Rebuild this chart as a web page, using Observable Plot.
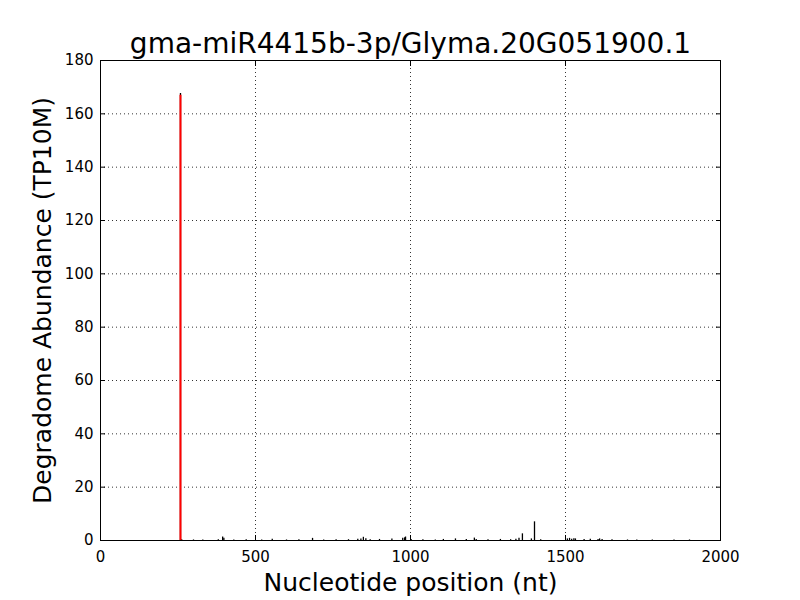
<!DOCTYPE html>
<html><head><meta charset="utf-8">
<script src="https://cdn.jsdelivr.net/npm/d3@7"></script>
<script src="https://cdn.jsdelivr.net/npm/@observablehq/plot@0.6"></script>
<style>body{margin:0;background:#fff;font-family:"DejaVu Sans",sans-serif}</style>
</head><body><div id="chart"></div>
<script>
const title = "gma-miR4415b-3p/Glyma.20G051900.1";
const xLabel = "Nucleotide position (nt)";
const yLabel = "Degradome Abundance (TP10M)";
const xTicks = [0, 500, 1000, 1500, 2000];
const yTicks = [0, 20, 40, 60, 80, 100, 120, 140, 160, 180];
// target site (red)
const targetPos = [258];
const targetVal = [167];
// background degradome reads (black)
const bgPos = [258, 262, 300, 330, 380, 394, 398, 430, 470, 520, 554, 600, 640, 684, 720, 760, 800, 830, 840, 848, 856, 870, 900, 940, 975, 981, 984, 1002, 1040, 1080, 1106, 1145, 1180, 1206, 1212, 1250, 1290, 1323, 1340, 1350, 1361, 1390, 1400, 1420, 1506, 1513, 1520, 1527, 1532, 1560, 1580, 1605, 1610, 1618, 1650, 1700, 1730, 1780, 1850, 1900];
const bgVal = [167.6, 0.3, 0.2, 0.2, 0.3, 1.3, 0.8, 0.2, 0.3, 0.2, 0.5, 0.2, 0.3, 0.8, 0.2, 0.3, 0.3, 0.5, 0.6, 1.2, 0.7, 0.3, 0.4, 0.6, 0.8, 1.0, 1.3, 0.4, 0.3, 0.2, 0.4, 0.6, 0.4, 0.9, 0.4, 0.3, 0.4, 0.3, 0.5, 0.8, 2.5, 0.6, 7, 0.3, 0.6, 0.8, 0.5, 0.7, 0.6, 0.4, 0.5, 0.4, 0.6, 0.4, 0.3, 0.2, 0.2, 0.2, 0.2, 0.2];

const bg = bgPos.map((p, i) => ({pos: p, val: bgVal[i]}));
const tg = targetPos.map((p, i) => ({pos: p, val: targetVal[i]}));

const plot = Plot.plot({
  width: 800, height: 600,
  marginLeft: 100, marginRight: 80, marginTop: 60, marginBottom: 60,
  style: {fontFamily: "DejaVu Sans, sans-serif", fontSize: "12px", color: "#000", background: "#fff"},
  x: {domain: [0, 2000]},
  y: {domain: [0, 180]},
  marks: [
    Plot.gridX(xTicks.slice(1, -1), {stroke: "#000", strokeOpacity: 1, strokeDasharray: "1,3", strokeWidth: 0.8}),
    Plot.gridY(yTicks.slice(1, -1), {stroke: "#000", strokeOpacity: 1, strokeDasharray: "1,3", strokeWidth: 0.8}),
    Plot.ruleX(bg, {x: "pos", y1: 0, y2: "val", stroke: "#000", strokeWidth: 1.3}),
    Plot.ruleX(tg, {x: "pos", y1: 0, y2: "val", stroke: "#ff0000", strokeWidth: 2}),
    Plot.axisX(xTicks, {anchor: "bottom", tickSize: -5, tickPadding: 16, fontSize: 15, tickFormat: d3.format("d"), label: null}),
    Plot.axisX(xTicks, {anchor: "top", tickSize: -5, tickFormat: () => "", label: null}),
    Plot.axisY(yTicks, {anchor: "left", tickSize: -5, tickPadding: 12, fontSize: 15, tickFormat: d3.format("d"), label: null}),
    Plot.axisY(yTicks, {anchor: "right", tickSize: -5, tickFormat: () => "", label: null}),
    Plot.frame({stroke: "#000", strokeWidth: 1}),
    Plot.text([title], {frameAnchor: "top", lineAnchor: "middle", dy: -16, fontSize: 28, text: d => d}),
    Plot.text([xLabel], {frameAnchor: "bottom", lineAnchor: "middle", dy: 42, fontSize: 25, text: d => d}),
    Plot.text([yLabel], {frameAnchor: "left", lineAnchor: "middle", dx: -58, rotate: -90, textAnchor: "middle", fontSize: 25, text: d => d})
  ]
});
document.getElementById("chart").appendChild(plot);
</script></body></html>
